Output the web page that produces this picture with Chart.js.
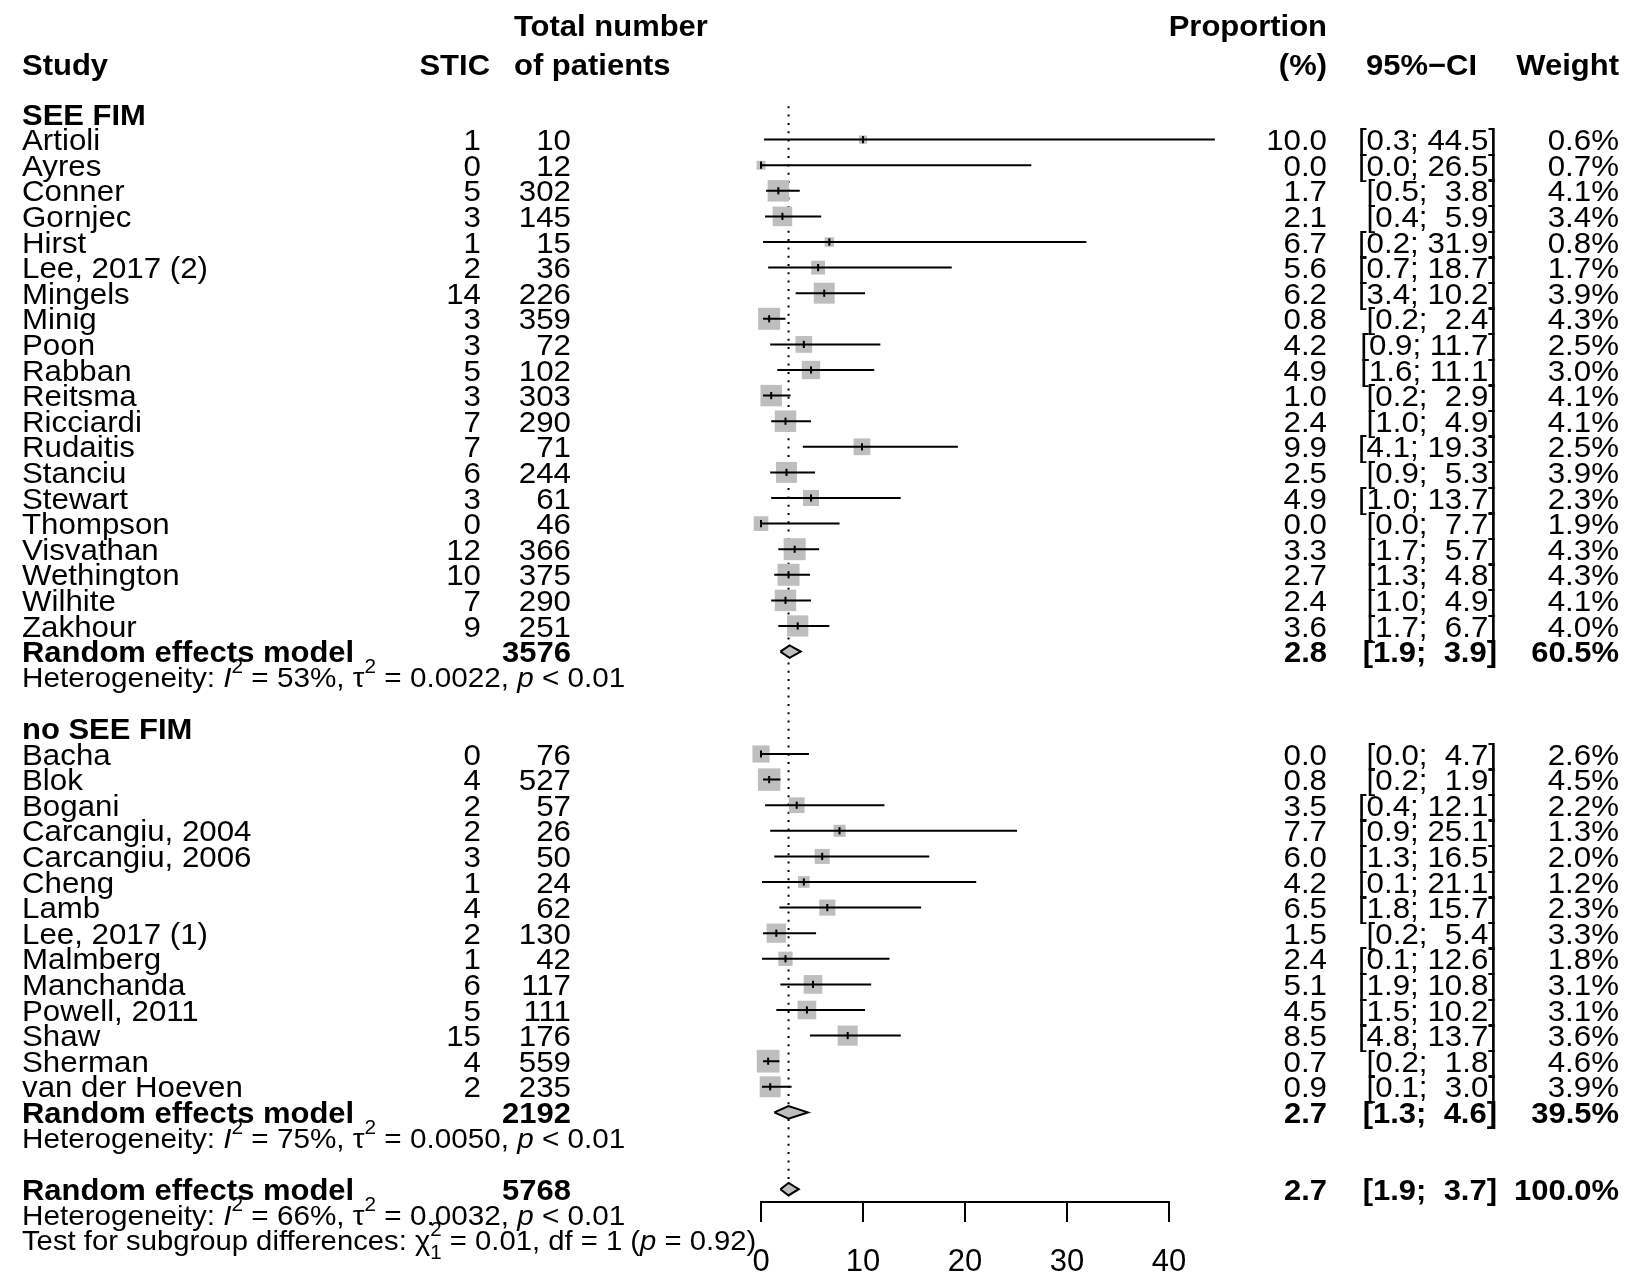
<!DOCTYPE html>
<html><head><meta charset="utf-8">
<script src="https://cdn.jsdelivr.net/npm/chart.js@4.4.0/dist/chart.umd.min.js"></script>
<style>html,body{margin:0;padding:0;background:#fff;} canvas{display:block;}</style>
</head><body>
<canvas id="c" width="1629" height="1272"></canvas>
<script>
// ---------------- data ----------------
const groupLabels = ['SEE FIM', 'no SEE FIM'];

const studiesA = ['Artioli','Ayres','Conner','Gornjec','Hirst','Lee, 2017 (2)','Mingels','Minig','Poon','Rabban','Reitsma','Ricciardi','Rudaitis','Stanciu','Stewart','Thompson','Visvathan','Wethington','Wilhite','Zakhour'];
const sticA   = [1,0,5,3,1,2,14,3,3,5,3,7,7,6,3,0,12,10,7,9];
const totalA  = [10,12,302,145,15,36,226,359,72,102,303,290,71,244,61,46,366,375,290,251];
const propA   = [10.0,0.0,1.7,2.1,6.7,5.6,6.2,0.8,4.2,4.9,1.0,2.4,9.9,2.5,4.9,0.0,3.3,2.7,2.4,3.6];
const lowerA  = [0.3,0.0,0.5,0.4,0.2,0.7,3.4,0.2,0.9,1.6,0.2,1.0,4.1,0.9,1.0,0.0,1.7,1.3,1.0,1.7];
const upperA  = [44.5,26.5,3.8,5.9,31.9,18.7,10.2,2.4,11.7,11.1,2.9,4.9,19.3,5.3,13.7,7.7,5.7,4.8,4.9,6.7];
const weightA = [0.6,0.7,4.1,3.4,0.8,1.7,3.9,4.3,2.5,3.0,4.1,4.1,2.5,3.9,2.3,1.9,4.3,4.3,4.1,4.0];

const studiesB = ['Bacha','Blok','Bogani','Carcangiu, 2004','Carcangiu, 2006','Cheng','Lamb','Lee, 2017 (1)','Malmberg','Manchanda','Powell, 2011','Shaw','Sherman','van der Hoeven'];
const sticB   = [0,4,2,2,3,1,4,2,1,6,5,15,4,2];
const totalB  = [76,527,57,26,50,24,62,130,42,117,111,176,559,235];
const propB   = [0.0,0.8,3.5,7.7,6.0,4.2,6.5,1.5,2.4,5.1,4.5,8.5,0.7,0.9];
const lowerB  = [0.0,0.2,0.4,0.9,1.3,0.1,1.8,0.2,0.1,1.9,1.5,4.8,0.2,0.1];
const upperB  = [4.7,1.9,12.1,25.1,16.5,21.1,15.7,5.4,12.6,10.8,10.2,13.7,1.8,3.0];
const weightB = [2.6,4.5,2.2,1.3,2.0,1.2,2.3,3.3,1.8,3.1,3.1,3.6,4.6,3.9];

// summaries: [SEE FIM, no SEE FIM, overall]
const summaryTotal  = [3576, 2192, 5768];
const summaryProp   = [2.8, 2.7, 2.7];
const summaryLower  = [1.9, 1.3, 1.9];
const summaryUpper  = [3.9, 4.6, 3.7];
const summaryWeight = [60.5, 39.5, 100.0];
const hetI2   = ['53%', '75%', '66%'];
const hetTau2 = ['0.0022', '0.0050', '0.0032'];
const hetP    = ['0.01', '0.01', '0.01'];
const testChi2 = '0.01', testDf = '1', testP = '0.92';

const xTicks = [0, 10, 20, 30, 40];

// ---------------- row layout ----------------
let r = 0;
const headerRows = [];
const rowsA = [], rowsB = [];
const summaryRows = [], hetRows = [];
headerRows.push(r++);
studiesA.forEach(() => rowsA.push(r++));
summaryRows.push(r++); hetRows.push(r++); r++;
headerRows.push(r++);
studiesB.forEach(() => rowsB.push(r++));
summaryRows.push(r++); hetRows.push(r++); r++;
summaryRows.push(r++); hetRows.push(r++);
const testRow = r++;

const allStudies = studiesA.concat(studiesB);
const allStic = sticA.concat(sticB);
const allTotal = totalA.concat(totalB);
const allProp = propA.concat(propB);
const allLower = lowerA.concat(lowerB);
const allUpper = upperA.concat(upperB);
const allWeight = weightA.concat(weightB);
const allRows = rowsA.concat(rowsB);

const fmt1 = v => v.toFixed(1);
const ciStr = (lo, hi) => '[' + fmt1(lo) + '; ' + fmt1(hi).padStart(4, ' ') + ']';

// ---------------- datasets ----------------
const squareData = allProp.map((p, i) => ({x: p, y: allRows[i]}));
const squareRadius = allWeight.map(w => 10.6 * Math.sqrt(w) / Math.SQRT2);
const ciData = [];
allProp.forEach((p, i) => {
  ciData.push({x: allLower[i], y: allRows[i]}, {x: allUpper[i], y: allRows[i]}, {x: null, y: null});
});
const H = 0.245;
const diamondSets = summaryProp.map((p, k) => ({
  showLine: true, fill: 'shape',
  data: [
    {x: summaryLower[k], y: summaryRows[k]},
    {x: p, y: summaryRows[k] - H},
    {x: summaryUpper[k], y: summaryRows[k]},
    {x: p, y: summaryRows[k] + H},
    {x: summaryLower[k], y: summaryRows[k]}
  ],
  backgroundColor: '#BEBEBE', borderColor: '#000', borderWidth: 2,
  pointRadius: 0, tension: 0, clip: false, order: 1, borderJoinStyle: 'miter'
}));

const refX = summaryProp[2];
const datasets = [
  { // dotted reference line at overall estimate
    showLine: true, data: [{x: refX, y: -0.3}, {x: refX, y: summaryRows[2] - H}],
    borderColor: '#000', borderWidth: 2, borderDash: [2, 6.3], pointRadius: 0, fill: false, clip: false, order: 5
  },
  { // squares
    data: squareData, pointStyle: 'rect', pointRadius: squareRadius,
    backgroundColor: '#BEBEBE', borderWidth: 0, clip: false, order: 4
  },
  { // confidence intervals
    showLine: true, spanGaps: false, data: ciData, borderColor: '#000', borderWidth: 2,
    pointRadius: 0, fill: false, clip: false, order: 3
  },
  { // estimate marks
    data: squareData, pointStyle: 'line', rotation: 90, pointRadius: 3.6,
    borderColor: '#000', borderWidth: 2, clip: false, order: 2
  }
].concat(diamondSets);

// ---------------- text helpers ----------------
const FS = 29.5, FSH = 28, FST = 27.6, FAM = '"Liberation Sans", Arial, Helvetica, sans-serif';
const SXR = 1.06, SXB = 1.05;
const font = (bold, italic, size) => (italic ? 'italic ' : '') + (bold ? 'bold ' : '') + size + 'px ' + FAM;

function txt(ctx, s, x, yc, align, bold, italic, size) {
  size = size || FS;
  const sx = bold ? SXB : SXR;
  ctx.font = font(bold, italic, size);
  const w = ctx.measureText(s).width * sx;
  const x0 = align === 'right' ? x - w : (align === 'center' ? x - w / 2 : x);
  ctx.save();
  ctx.translate(x0, yc + 0.358 * size);
  ctx.scale(sx, 1);
  ctx.textAlign = 'left'; ctx.textBaseline = 'alphabetic';
  ctx.fillText(s, 0, 0);
  ctx.restore();
  return w;
}
function small(ctx, s, x, yb, size) {
  ctx.font = font(false, false, size * 0.7);
  const w = ctx.measureText(s).width * SXR;
  ctx.save(); ctx.translate(x, yb); ctx.scale(SXR, 1);
  ctx.textAlign = 'left'; ctx.textBaseline = 'alphabetic';
  ctx.fillText(s, 0, 0); ctx.restore();
  return w;
}
// rich text: {t} plain, {i} italic, {sup,sub} scripts
function rich(ctx, parts, x, yc, size) {
  let cx = x;
  const yb = yc + 0.358 * size;
  parts.forEach(p => {
    if (p.sup !== undefined || p.sub !== undefined) {
      let w1 = 0, w2 = 0;
      if (p.sup !== undefined) w1 = small(ctx, p.sup, cx, yb - size * 0.5, size);
      if (p.sub !== undefined) w2 = small(ctx, p.sub, cx, yb + size * 0.3, size);
      cx += Math.max(w1, w2);
    } else {
      cx += txt(ctx, p.t, cx, yc, 'left', false, !!p.i, size);
    }
  });
}

const COL = {study: 22, stic: 481, total: 571, prop: 1327, ci: 1497, weight: 1619};

const textPlugin = {
  id: 'forestText',
  afterDraw(chart) {
    const ctx = chart.ctx;
    const y = chart.scales.y;
    const py = v => y.getPixelForValue(v);
    ctx.save();
    ctx.fillStyle = '#000';
    // headers
    const h1 = py(-3.44), h2 = py(-1.95);
    txt(ctx, 'Study', COL.study, h2, 'left', true);
    txt(ctx, 'STIC', 490, h2, 'right', true);
    txt(ctx, 'Total number', 514, h1, 'left', true);
    txt(ctx, 'of patients', 514, h2, 'left', true);
    txt(ctx, 'Proportion', COL.prop, h1, 'right', true);
    txt(ctx, '(%)', COL.prop, h2, 'right', true);
    txt(ctx, '95%\u2212CI', 1366, h2, 'left', true);
    txt(ctx, 'Weight', COL.weight, h2, 'right', true);
    // group labels
    groupLabels.forEach((g, k) => txt(ctx, g, COL.study, py(headerRows[k]), 'left', true));
    // studies
    allStudies.forEach((s, i) => {
      const yc = py(allRows[i]);
      txt(ctx, s, COL.study, yc, 'left', false);
      txt(ctx, String(allStic[i]), COL.stic, yc, 'right', false);
      txt(ctx, String(allTotal[i]), COL.total, yc, 'right', false);
      txt(ctx, fmt1(allProp[i]), COL.prop, yc, 'right', false);
      txt(ctx, ciStr(allLower[i], allUpper[i]), COL.ci, yc, 'right', false);
      txt(ctx, fmt1(allWeight[i]) + '%', COL.weight, yc, 'right', false);
    });
    // summaries
    summaryRows.forEach((row, k) => {
      const yc = py(row);
      txt(ctx, 'Random effects model', COL.study, yc, 'left', true);
      txt(ctx, String(summaryTotal[k]), COL.total, yc, 'right', true);
      txt(ctx, fmt1(summaryProp[k]), COL.prop, yc, 'right', true);
      txt(ctx, ciStr(summaryLower[k], summaryUpper[k]), COL.ci, yc, 'right', true);
      txt(ctx, fmt1(summaryWeight[k]) + '%', COL.weight, yc, 'right', true);
    });
    hetRows.forEach((row, k) => {
      rich(ctx, [
        {t: 'Heterogeneity: '}, {t: 'I', i: true}, {sup: '2'},
        {t: ' = ' + hetI2[k] + ', '}, {t: '\u03C4'}, {sup: '2'},
        {t: ' = ' + hetTau2[k] + ', '}, {t: 'p', i: true}, {t: ' < ' + hetP[k]}
      ], COL.study, py(row), FSH);
    });
    rich(ctx, [
      {t: 'Test for subgroup differences: '}, {t: '\u03C7'}, {sup: '2', sub: '1'},
      {t: ' = ' + testChi2 + ', df = ' + testDf + ' ('}, {t: 'p', i: true},
      {t: ' = ' + testP + ')'}
    ], COL.study, py(testRow), FST);
    ctx.restore();
  }
};

new Chart(document.getElementById('c'), {
  type: 'scatter',
  data: {datasets},
  options: {
    responsive: false,
    animation: false,
    devicePixelRatio: 1,
    layout: {padding: {left: 761, right: 460, top: 37.2, bottom: 0}},
    plugins: {legend: {display: false}, tooltip: {enabled: false}},
    scales: {
      x: {
        type: 'linear', min: xTicks[0], max: xTicks[xTicks.length - 1],
        afterBuildTicks: s => { s.ticks = xTicks.map(v => ({value: v})); },
        afterFit: s => { s.height = 70; },
        ticks: {color: '#000', font: {family: FAM, size: 31}, padding: 22, maxRotation: 0, autoSkip: false},
        grid: {display: true, drawOnChartArea: false, drawTicks: true, tickLength: 20, color: '#000', lineWidth: 2},
        border: {display: true, color: '#000', width: 2}
      },
      y: {type: 'linear', display: false, reverse: true, min: -3, max: 42.5}
    }
  },
  plugins: [textPlugin]
});
</script>
</body></html>
